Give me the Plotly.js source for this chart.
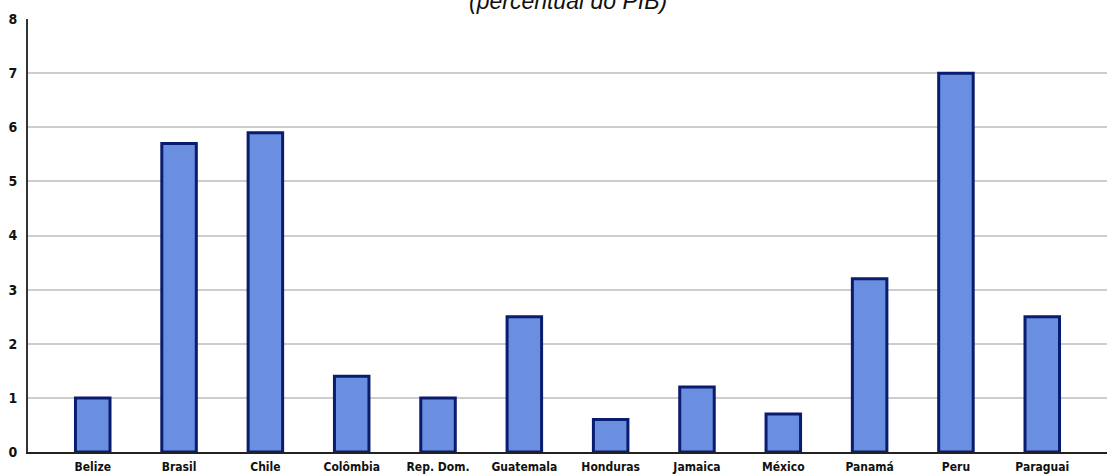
<!DOCTYPE html>
<html>
<head>
<meta charset="utf-8">
<script src="https://cdn.plot.ly/plotly-3.0.1.min.js"></script>
<style>html,body{margin:0;padding:0;background:#fff;}#chart{width:1107px;height:475px;}</style>
</head>
<body>
<div id="chart"></div>
<script>
const countries = ["Belize","Brasil","Chile","Colômbia","Rep. Dom.","Guatemala","Honduras","Jamaica","México","Panamá","Peru","Paraguai"];
const values = [1.0, 5.7, 5.9, 1.4, 1.0, 2.5, 0.6, 1.2, 0.7, 3.2, 7.0, 2.5];
const yTicks = [0,1,2,3,4,5,6,7,8];
const subtitle = "(percentual do PIB)";

const condensed = "'DejaVu Sans Condensed', 'Liberation Sans Narrow', sans-serif";

const traces = [{
  type: "bar",
  x: countries,
  y: values,
  width: 0.4,
  marker: {color: "#6a8ee0", line: {color: "#0a1c6e", width: 3}},
  hoverinfo: "x+y"
}];

const layout = {
  width: 1107, height: 475,
  margin: {l: 28, r: 0, t: 19, b: 23},
  paper_bgcolor: "#fff", plot_bgcolor: "#fff",
  showlegend: false,
  xaxis: {
    range: [-0.75, 11.75],
    showgrid: false,
    showline: true, linecolor: "#222", linewidth: 2,
    ticks: "", tickfont: {family: condensed, size: 12, color: "#111", weight: 600},
    ticklabelstandoff: 3, fixedrange: true
  },
  yaxis: {
    range: [0, 8],
    tickvals: yTicks,
    ticktext: yTicks.map(String),
    showgrid: true, gridcolor: "#cdcdcd", gridwidth: 2,
    zeroline: false,
    showline: true, linecolor: "#333", linewidth: 2,
    ticks: "", tickfont: {family: condensed, size: 14, color: "#111", weight: "bold"},
    ticklabelstandoff: 6, fixedrange: true
  },
  annotations: [{
    text: "<i>" + subtitle + "</i>",
    xref: "paper", yref: "paper", x: 0.5, y: 1,
    xanchor: "center", yanchor: "bottom", yshift: 3,
    showarrow: false,
    font: {family: "'Liberation Sans', Arial, sans-serif", size: 23, color: "#111"}
  }]
};

Plotly.newPlot("chart", traces, layout, {displayModeBar: false, staticPlot: true});
</script>
</body>
</html>
